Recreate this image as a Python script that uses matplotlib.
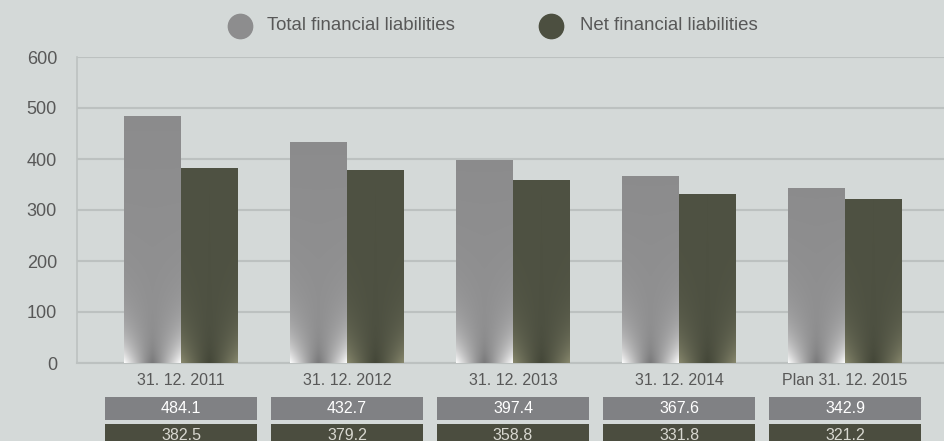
import numpy as np
import matplotlib
matplotlib.use("Agg")
import matplotlib.pyplot as plt
from matplotlib.lines import Line2D
from matplotlib.patches import Rectangle
import matplotlib.transforms as mtransforms

plt.rcParams['font.family'] = ['Liberation Sans', 'DejaVu Sans']

# Data (billions)
categories = ["31. 12. 2011", "31. 12. 2012", "31. 12. 2013", "31. 12. 2014", "Plan 31. 12. 2015"]
total_liab = [484.1, 432.7, 397.4, 367.6, 342.9]
net_liab = [382.5, 379.2, 358.8, 331.8, 321.2]
series_names = ["Total financial liabilities", "Net financial liabilities"]

BG = "#d4d9d8"
GRID = "#bcc1c0"
GRAY = "#8d8d8e"
DARK = "#4c4f40"
BOX_GRAY = "#808184"
BOX_DARK = "#4b4d3f"
TXT = "#585858"

fig = plt.figure(figsize=(9.44, 4.41), dpi=100, facecolor=BG)
ax = fig.add_axes([77 / 944, 78 / 441, 1 - 77 / 944, 306 / 441])
ax.set_facecolor(BG)

x = np.arange(len(categories))
w = 0.343
bars_t = ax.bar(x - w / 2, total_liab, w, color=GRAY, zorder=3)
bars_n = ax.bar(x + w / 2, net_liab, w, color=DARK, zorder=3)


def shade(bars, base, light, dark_center, reach, strength, top_dim):
    """Overlay a bottom-lit gradient on each bar, clipped to the bar shape."""
    base = np.array(base) / 255.0
    light = np.array(light) / 255.0
    for b in bars:
        x0, bw, h = b.get_x(), b.get_width(), b.get_height()
        ny, nx = 240, 60
        xs = np.linspace(-1, 1, nx)
        ys = np.linspace(h, 0, ny)
        X, Y = np.meshgrid(xs, ys)
        glow = strength * np.abs(X) ** 1.4 * np.exp(-Y / reach)
        core = (1 - np.abs(X)) ** 1.5 * np.exp(-Y / (reach * 0.6)) * dark_center
        top = top_dim * (Y / h)
        img = base[None, None, :] * (1 - glow[..., None]) + light[None, None, :] * glow[..., None]
        img = img - core[..., None] - top[..., None]
        img = np.clip(img, 0, 1)
        im = ax.imshow(img, extent=[x0, x0 + bw, 0, h], aspect='auto',
                       interpolation='bilinear', zorder=4)
        im.set_clip_path(b)


shade(bars_t, (146, 146, 147), (252, 252, 252), 0.10, 48, 1.0, 0.025)
shade(bars_n, (78, 81, 66), (142, 142, 114), 0.04, 55, 0.9, 0.0)

ax.set_xlim(-0.627, 4.596)
ax.set_ylim(0, 600)
ax.set_yticks(range(0, 601, 100))
ax.yaxis.grid(True, color=GRID, linewidth=1.5, zorder=1)
ax.set_axisbelow(True)
ax.set_xticks([])
ax.tick_params(axis='y', length=0, pad=14.4, labelsize=13, labelcolor=TXT)
for s in ["top", "right"]:
    ax.spines[s].set_visible(False)
ax.spines["left"].set_color(GRID)
ax.spines["bottom"].set_color(GRID)
ax.spines["left"].set_linewidth(1.2)
ax.spines["bottom"].set_linewidth(1.5)

# Category labels and value table under the axis
trans = mtransforms.blended_transform_factory(ax.transData, ax.transAxes)
box_w = 0.916
rows = [(total_liab, BOX_GRAY, "white", -0.186, -0.111),
        (net_liab, BOX_DARK, "#d8d8d0", -0.275, -0.199)]
for i, cat in enumerate(categories):
    ax.text(x[i], -0.057, cat, transform=trans, ha='center', va='center',
            fontsize=11.5, color=TXT, clip_on=False)
    for vals, fc, tc, y0, y1 in rows:
        ax.add_patch(Rectangle((x[i] - box_w / 2, y0), box_w, y1 - y0, transform=trans,
                               facecolor=fc, edgecolor='none', clip_on=False))
        ax.text(x[i], (y0 + y1) / 2, f"{vals[i]:.1f}", transform=trans, ha='center',
                va='center', fontsize=11.5, color=tc, clip_on=False)

# Legend across the top
for cx, tx, col, name in [(240, 267, GRAY, series_names[0]), (551, 580, DARK, series_names[1])]:
    fig.add_artist(Line2D([cx / 944], [1 - 25.5 / 441], marker='o', markersize=17.5,
                          color=col, linestyle='none', transform=fig.transFigure))
    fig.text(tx / 944, 1 - 26 / 441, name, ha='left', va='center', fontsize=13.4, color=TXT)

fig.savefig("out.png", dpi=100, facecolor=BG)
